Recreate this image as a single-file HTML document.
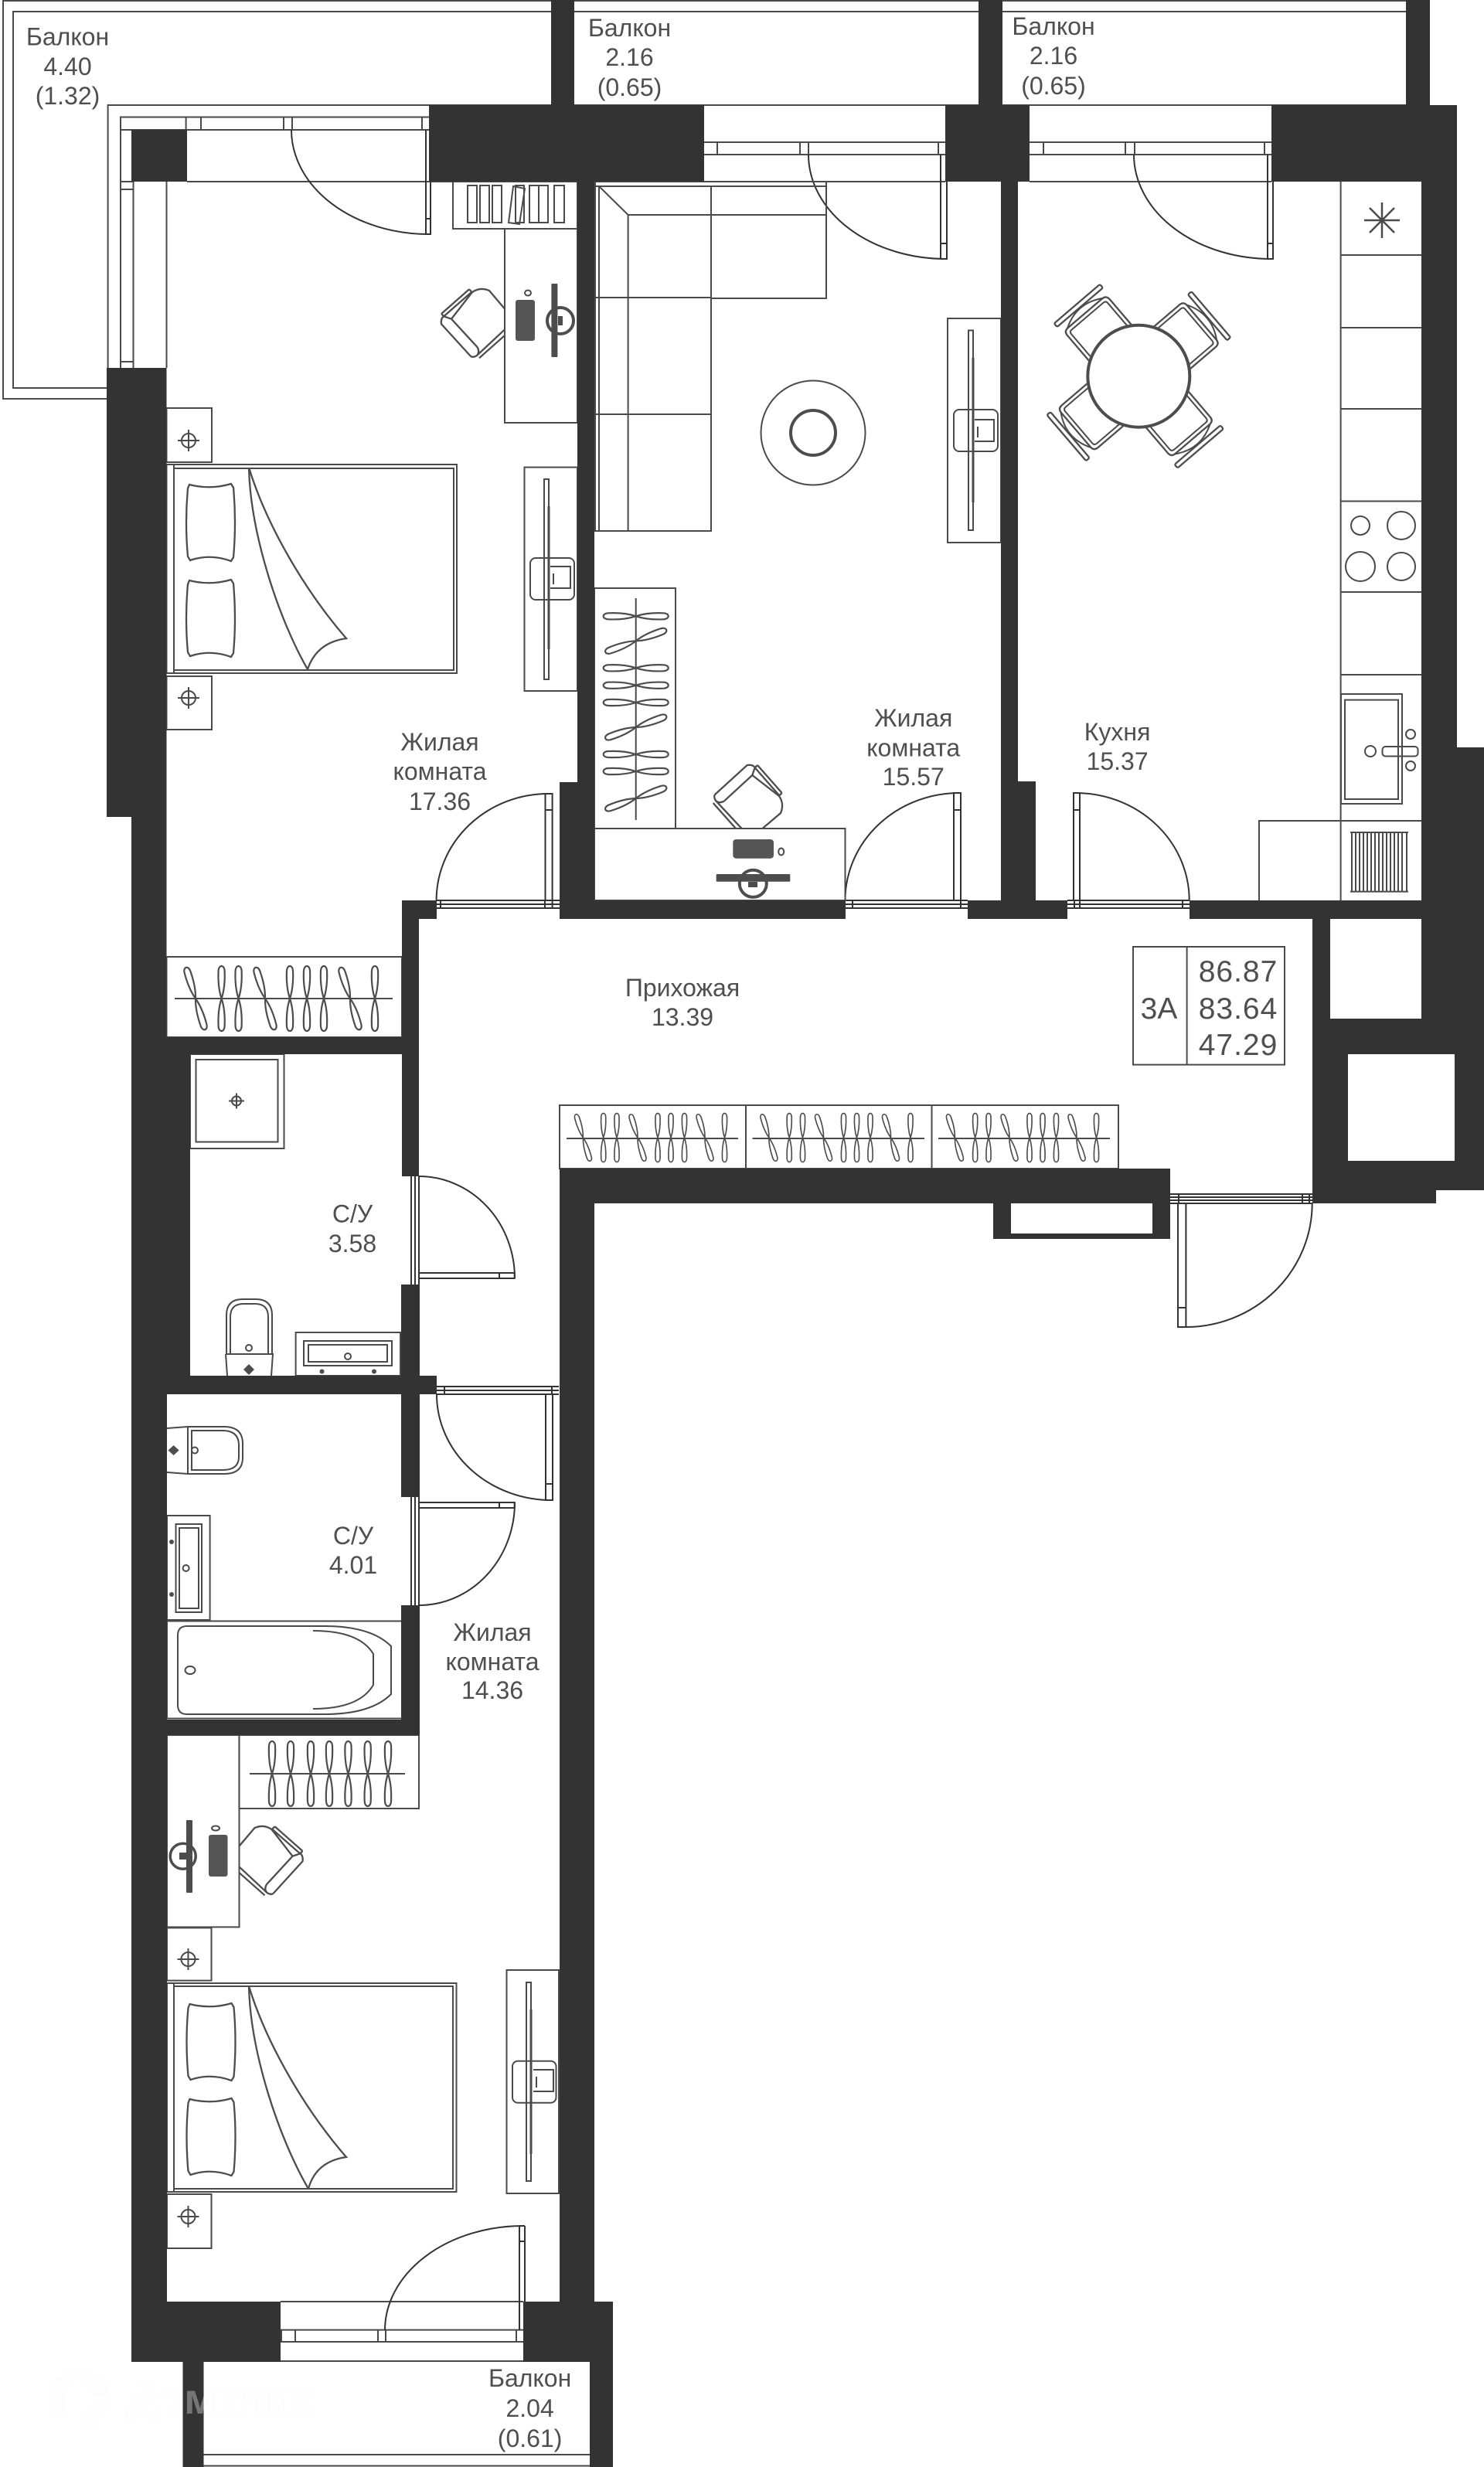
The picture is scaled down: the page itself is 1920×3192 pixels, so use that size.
<!DOCTYPE html>
<html lang="ru"><head><meta charset="utf-8"><title>План квартиры</title>
<style>html,body{margin:0;padding:0;background:#fff}svg{display:block}
text{font-family:"Liberation Sans",sans-serif;fill:#4f4f4f;font-size:32px;text-anchor:middle}
.s{fill:none;stroke:#4a4a4a;stroke-width:2}
.d{fill:none;stroke:#333;stroke-width:2}
.t{fill:none;stroke:#4d4d4d;stroke-width:2.3}
.h{fill:none;stroke:#4d4d4d;stroke-width:2.2}
</style></head><body>
<svg xmlns="http://www.w3.org/2000/svg" xmlns:xlink="http://www.w3.org/1999/xlink" width="1920" height="3192" viewBox="0 0 1920 3192">
<defs>
<g id="hg" class="h"><path d="M0,0C12,-4 25,-4.5 36,-4C44,-3.5 44,3.5 36,4C25,4.5 12,4 0,0Z"/><path d="M0,0C-12,-4 -25,-4.5 -36,-4C-44,-3.5 -44,3.5 -36,4C-25,4.5 -12,4 0,0Z"/></g>
<g id="cross" class="s"><circle cx="0" cy="0" r="9"/><path d="M-14,0H14M0,-14V14"/></g>
<path id="pillow" class="t" d="M4,2Q31,9 58,1L61,6Q65,51 61,96L58,101Q31,91 5,100L2,95Q-2,51 2,7Z"/>
<g id="chair">
<rect x="-39" y="-123" width="78" height="6" rx="2" class="t"/>
<path class="t" d="M-36,-50V-100Q-36,-107 -29,-107H29Q36,-107 36,-100V-50"/>
<path class="s" d="M-31,-50V-98Q-31,-102 -27,-102H27Q31,-102 31,-98V-50"/>
<path class="s" d="M-30,-107Q-15,-116 0,-116Q15,-116 30,-107"/>
</g>
<g id="office" class="t">
<path d="M936.7,1036.7L973.3,1003L1008,1030Q1015,1040 1010,1052L986.7,1071.7"/>
<path d="M925,1028L966.7,990Q974,989 976.7,993L973.3,1003M936.7,1036.7Q930,1040 926,1036Q923,1031 925,1028"/>
<path d="M922.7,1039L951.7,1071.7M926.7,1036.7L959.3,1071.7"/>
<path d="M980,990L1011.7,1026M976.7,993.3L1008.3,1029.3M980,990L976.7,993.3M1011.7,1026L1008.3,1029.3"/>
</g>
</defs>
<rect width="1920" height="3192" fill="#fff"/>

<!-- balconies -->
<g class="s">
<path d="M138,516H4V1H713M138,502H17V15H713"/>
<path d="M743,1H1266M743,15H1266M1297,1H1819M1297,15H1819"/>
<path d="M139.6,476V136H1850"/>
<path d="M263,3176H763M263,3190.5H763"/>
<path d="M363,2978H677M363,3055H677"/>
<!-- left window -->
<path d="M156,476V151.5H555M172.5,476V168H555"/>
<path d="M156,168H172.5M156,235H172.5M156,245H172.5M156,468H172.5"/>
<path d="M215.5,235V476M242,235H586"/>
<path d="M240.6,151.5V168M260,151.5V168M367,151.5V168M378,151.5V168M546,151.5V168"/>
<!-- window 2 -->
<path d="M911,184H1223M911,200H1223M911,235H1223"/>
<path d="M928,184V200M1035,184V200M1046,184V200M1214,184V200"/>
<!-- window 3 -->
<path d="M1332,184H1645M1332,200H1645M1332,235H1645"/>
<path d="M1350,184V200M1456,184V200M1468,184V200M1636,184V200"/>
<!-- window bottom -->
<path d="M363,3014.6H677M363,3030H677M382,3014.6V3030M489,3014.6V3030M499,3014.6V3030M668,3014.6V3030M364,3014.6V3030"/>
</g>

<!-- doors -->
<g class="d">
<path d="M377,168A178,135 0 0 0 555,303"/><path d="M551,168V303H557V168M551,283H557"/>
<path d="M1046,200A178,135 0 0 0 1224.5,335"/><path d="M1217,200V335H1225V200M1217,315H1225"/>
<path d="M1467,200A178,135 0 0 0 1646,335"/><path d="M1640,200V335H1647V200M1640,315H1647"/>
<path d="M564.6,1165A145,138 0 0 1 710,1027"/><path d="M705.5,1165V1027H714.6V1165M705.5,1048H714.6"/>
<path d="M1093.5,1165A148,139 0 0 1 1241.7,1026"/><path d="M1234,1165V1026H1243V1165M1234,1048H1243"/>
<path d="M1538.7,1165A147,139 0 0 0 1392,1026"/><path d="M1389,1165V1026H1397V1165M1389,1048H1397"/>
<path d="M565,1165H724M565,1170H724M565,1175H724M570,1165V1175M705,1165V1175M714.6,1165V1175"/>
<path d="M1093.5,1165H1252M1093.5,1170H1252M1093.5,1175H1252M1103,1165V1175M1243,1165V1175"/>
<path d="M1381,1165H1539M1381,1170H1539M1381,1175H1539M1390,1165V1175M1397,1165V1175M1530,1165V1175"/>
<!-- entrance -->
<path d="M1514,1545H1698M1514,1549H1698M1514,1553H1698M1514,1557H1698M1525,1545V1557M1685,1545V1557M1694,1545V1557"/>
<path d="M1697.7,1557A163.7,160 0 0 1 1534,1717"/><path d="M1524,1557V1717H1534.4V1557M1524,1692H1534.4"/>
<!-- wc door 1 -->
<path d="M532,1522V1662M537,1522V1662M542,1522V1662"/>
<path d="M542,1522A124,132 0 0 1 666,1654"/><path d="M542,1647H665.7V1654H542M646,1647V1654"/>
<!-- bedroom door -->
<path d="M565,1794H723M565,1799H723M565,1804H723M575,1794V1804M714,1794V1804"/>
<path d="M565,1804A149,137 0 0 0 714,1941"/><path d="M706,1804V1941H715V1804M706,1920H715"/>
<!-- bath door -->
<path d="M532,1937V2077M537,1937V2077M542,1937V2077"/>
<path d="M542,2077A124,133 0 0 0 666,1944"/><path d="M542,1951H665.7V1944H542M646,1944V1951"/>
<!-- balcony bottom door -->
<path d="M498,3015A179,135 0 0 1 677,2880"/><path d="M672,2880V3015M679,2880V3015M672,2880H679M672,2900H679"/>
</g>

<!-- bedroom 1 furniture -->
<g class="s">
<rect x="586" y="235" width="161" height="61"/>
<path d="M605,240h12v48h-12zM621,240h12v48h-12zM637,240h12v48h-12zM667,240h11v48h-11zM685,240h12v48h-12zM697,240h12v48h-12zM717,240h13v48h-13z"/>
<path d="M664,241l15,3-7,46-14,-2z"/>
<rect x="653" y="296" width="94" height="251"/>
<rect x="215.5" y="528" width="58.5" height="70"/>
<rect x="215.5" y="875" width="58.5" height="69"/>
<rect x="215.5" y="601" width="9.5" height="270"/>
<rect x="225" y="601" width="366" height="270"/><rect x="225" y="606" width="362" height="261"/>
<rect x="678.5" y="604.6" width="68.5" height="289.4"/>
<rect x="215.5" y="1238" width="304.5" height="104"/>
<path d="M226,1292H508"/>
</g>
<use xlink:href="#cross" x="244" y="570"/><use xlink:href="#cross" x="244" y="903"/>
<use xlink:href="#pillow" x="241" y="625"/><use xlink:href="#pillow" x="241" y="749"/>
<g class="t"><path d="M322,605C324,690 360,800 398,866M322,605C345,680 395,765 448,826C420,830 405,845 398,866"/></g>
<use xlink:href="#office" transform="matrix(0 -1 1 0 -419 1386)"/>
<rect x="667" y="388" width="25" height="53" rx="3" fill="#555"/><ellipse cx="683" cy="379" rx="4" ry="3.5" class="s"/>
<circle cx="725" cy="415" r="17" fill="none" stroke="#4d4d4d" stroke-width="4"/>
<rect x="713.4" y="367" width="8" height="95" rx="1" fill="#4d4d4d"/><rect x="722" y="409" width="6" height="12" fill="#4d4d4d"/>
<g class="s"><rect x="704" y="620" width="6" height="259"/><path d="M710,655V840" stroke-width="3"/><rect x="686" y="722" width="57" height="54" rx="7"/><path d="M712,733H738V761H712M716,742V756" /></g>

<!-- wardrobes -->
<g>
<use xlink:href="#hg" transform="translate(253,1292) rotate(73)"/><use xlink:href="#hg" transform="translate(286.6,1292) rotate(90)"/><use xlink:href="#hg" transform="translate(308.6,1292) rotate(90)"/><use xlink:href="#hg" transform="translate(343,1292) rotate(73)"/><use xlink:href="#hg" transform="translate(375,1292) rotate(90)"/><use xlink:href="#hg" transform="translate(397,1292) rotate(90)"/><use xlink:href="#hg" transform="translate(419,1292) rotate(90)"/><use xlink:href="#hg" transform="translate(453,1292) rotate(73)"/><use xlink:href="#hg" transform="translate(485,1292) rotate(90)"/>
</g>
<g class="s"><rect x="724" y="1430" width="723" height="82"/><path d="M965,1430V1512M1205.5,1430V1512M733,1473H955M973.5,1473H1196M1214,1473H1436"/></g>
<g id="wr1">
<use xlink:href="#hg" transform="translate(754.4,1472) rotate(73) scale(.75)"/><use xlink:href="#hg" transform="translate(780.7,1472) rotate(90) scale(.75)"/><use xlink:href="#hg" transform="translate(798,1472) rotate(90) scale(.75)"/><use xlink:href="#hg" transform="translate(825,1472) rotate(73) scale(.75)"/><use xlink:href="#hg" transform="translate(851,1472) rotate(90) scale(.75)"/><use xlink:href="#hg" transform="translate(868,1472) rotate(90) scale(.75)"/><use xlink:href="#hg" transform="translate(885.5,1472) rotate(90) scale(.75)"/><use xlink:href="#hg" transform="translate(912,1472) rotate(73) scale(.75)"/><use xlink:href="#hg" transform="translate(937.5,1472) rotate(90) scale(.75)"/>
</g>
<use xlink:href="#wr1" x="240.5"/><use xlink:href="#wr1" x="481"/>

<!-- living room -->
<g class="s">
<path d="M770,235H1069V386H920M770,241H1069M812.6,278H1069M775,241L812.6,278M770,235V687H920V241M775,241V687M812.6,278V687M770,385H920M770,536H920"/>
<rect x="769" y="761" width="105" height="311"/><path d="M822.7,774V1061"/>
<rect x="769" y="1072" width="324.5" height="93"/>
<rect x="1226" y="412" width="69" height="290"/>
<rect x="1253" y="427.5" width="6" height="258.5"/><path d="M1259,463V650" stroke-width="3"/>
<rect x="1234" y="530" width="57" height="54" rx="7"/><path d="M1261,543H1286V571H1261M1265,552V566"/>
<circle cx="1052" cy="560" r="67.5"/></g>
<circle cx="1052" cy="560" r="29" fill="none" stroke="#4d4d4d" stroke-width="4"/>
<g>
<use xlink:href="#hg" transform="translate(822.7,797.3)"/><use xlink:href="#hg" transform="translate(822.7,829.3) rotate(-20)"/><use xlink:href="#hg" transform="translate(822.7,864.3)"/><use xlink:href="#hg" transform="translate(822.7,886.7)"/><use xlink:href="#hg" transform="translate(822.7,909)"/><use xlink:href="#hg" transform="translate(822.7,941) rotate(-20)"/><use xlink:href="#hg" transform="translate(822.7,976)"/><use xlink:href="#hg" transform="translate(822.7,998)"/><use xlink:href="#hg" transform="translate(822.7,1033) rotate(-20)"/>
</g>
<use xlink:href="#office"/>
<rect x="948.3" y="1086" width="52.7" height="24.7" rx="4" fill="#555"/><ellipse cx="1010.7" cy="1102" rx="3.5" ry="4.5" class="s"/>
<circle cx="974.3" cy="1143.3" r="17.5" fill="none" stroke="#4d4d4d" stroke-width="4"/>
<rect x="926.7" y="1131" width="95.6" height="9.7" rx="1" fill="#4d4d4d"/><rect x="968" y="1141" width="12" height="7" fill="#4d4d4d"/>

<!-- kitchen -->
<g transform="translate(1473.3,486.7)">
<use xlink:href="#chair" transform="rotate(49.5)"/><use xlink:href="#chair" transform="rotate(-40.5)"/><use xlink:href="#chair" transform="rotate(139.5)"/><use xlink:href="#chair" transform="rotate(229.5)"/>
<circle r="66" fill="#fff" stroke="#4d4d4d" stroke-width="4"/>
</g>
<g class="s">
<path d="M1734.6,235V1165M1734.6,330H1839M1734.6,424H1839M1734.6,529H1839M1734.6,648.5H1839M1734.6,766H1839M1734.6,873H1839M1734.6,1062H1839"/>
<path d="M1629,1165V1062H1734.6"/>
<path d="M1788,262V308M1765,285H1811M1772,269L1804,301M1804,269L1772,301" stroke-width="2.5"/>
<circle cx="1760" cy="680" r="12"/><circle cx="1813" cy="680" r="18"/><circle cx="1760" cy="733" r="19"/><circle cx="1813" cy="733" r="18"/>
<rect x="1735" y="898" width="79" height="142"/><rect x="1740" y="905.6" width="69" height="128.4"/>
<rect x="1788.5" y="966" width="46" height="12.5" rx="4"/>
<circle cx="1773" cy="972" r="7"/><circle cx="1825" cy="950" r="6"/><circle cx="1825" cy="991" r="6"/>
<path d="M1747,1077H1822M1747,1153.6H1822M1749,1077V1153.6M1754,1077V1153.6M1759,1077V1153.6M1764,1077V1153.6M1769,1077V1153.6M1774,1077V1153.6M1779,1077V1153.6M1784,1077V1153.6M1789,1077V1153.6M1794,1077V1153.6M1799,1077V1153.6M1804,1077V1153.6M1809,1077V1153.6M1814,1077V1153.6M1820,1077V1153.6"/>
<!-- summary -->
<rect x="1466" y="1225" width="196" height="152.6"/><path d="M1535.6,1225V1377.6"/>
</g>

<!-- bath 1 -->
<g class="s">
<rect x="246" y="1364" width="121.5" height="122"/><rect x="253.5" y="1371" width="106" height="106.5"/>
<path d="M293,1752V1702Q293,1681 314,1681H331Q352,1681 352,1702V1752M298,1752V1704Q298,1687 315,1687H330Q347,1687 347,1704V1752M292,1752H353L351,1780M292,1752L294,1780"/>
<circle cx="322" cy="1744" r="4"/>
<rect x="382.6" y="1724" width="135.4" height="56"/><rect x="393" y="1735" width="114" height="32"/><rect x="399" y="1740" width="102" height="22"/>
<circle cx="450" cy="1755" r="4"/>
</g>
<g fill="#4d4d4d"><path d="M322,1765l7,7-7,7-7,-7z"/><circle cx="416.5" cy="1774.5" r="3"/><circle cx="484" cy="1774.5" r="3"/><circle cx="222" cy="1995" r="3"/><circle cx="222" cy="2063" r="3"/><path d="M224.6,1870l7,6.5-7,6.5-7,-6.5z"/></g>
<g class="s" transform="translate(306,1424.5)"><circle r="6"/><path d="M-10,0H10M0,-10V10"/></g>

<!-- bath 2 -->
<g class="s">
<path d="M216,1848L243,1846H290Q314,1846 314,1868V1886Q314,1907 290,1907H243L216,1905M243,1846V1907M248,1851H288Q309,1851 309,1870V1885Q309,1902 288,1902H248Z"/>
<circle cx="252" cy="1876.5" r="4"/>
<rect x="216" y="1961" width="55.6" height="135"/><rect x="227.5" y="1972" width="33.5" height="114"/><rect x="232" y="1977" width="25" height="104"/>
<circle cx="240.6" cy="2029" r="4"/>
<rect x="216" y="2097.5" width="304.7" height="126"/>
<path d="M230,2116Q230,2104 242,2104H420Q480,2104 506,2130V2192Q480,2218 420,2218H242Q230,2218 230,2206Z"/>
<path d="M405,2110Q465,2110 483,2140V2180Q465,2211 405,2211"/>
<ellipse cx="246" cy="2161" rx="6.5" ry="5"/>
</g>

<!-- bedroom 2 -->
<g class="s">
<rect x="309.4" y="2245" width="232.6" height="95"/><path d="M323,2295H524"/>
<rect x="216" y="2245" width="93.5" height="248.4"/>
<rect x="216" y="2494.4" width="57.5" height="68.2"/><rect x="216" y="2839" width="57.5" height="70"/>
<rect x="216" y="2566" width="9" height="270"/>
<rect x="225" y="2566" width="365.5" height="270"/><rect x="225" y="2570" width="361" height="262"/>
<rect x="655.5" y="2549" width="67.5" height="289"/>
<rect x="681" y="2565" width="6" height="257"/><path d="M687,2600V2787" stroke-width="3"/>
<rect x="663" y="2666.7" width="56.5" height="54" rx="7"/><path d="M690,2678H716V2706H690M694,2687V2701"/>
</g>
<g>
<use xlink:href="#hg" transform="translate(352,2295) rotate(90)"/><use xlink:href="#hg" transform="translate(376,2295) rotate(90)"/><use xlink:href="#hg" transform="translate(402,2295) rotate(90)"/><use xlink:href="#hg" transform="translate(426,2295) rotate(90)"/><use xlink:href="#hg" transform="translate(450.5,2295) rotate(90)"/><use xlink:href="#hg" transform="translate(475.7,2295) rotate(90)"/><use xlink:href="#hg" transform="translate(502,2295) rotate(90)"/>
</g>
<use xlink:href="#cross" x="243.5" y="2535"/><use xlink:href="#cross" x="243.5" y="2868"/>
<use xlink:href="#pillow" x="241.5" y="2591"/><use xlink:href="#pillow" x="241.5" y="2714"/>
<g class="t"><path d="M322,2570C324,2655 360,2765 399,2832M322,2570C345,2645 395,2730 448,2791C420,2795 405,2810 399,2832"/></g>
<use xlink:href="#office" transform="matrix(0 -1 -1 0 1381.5 3375)"/>
<rect x="270" y="2374" width="24.5" height="54" rx="3" fill="#555"/><ellipse cx="279" cy="2365.5" rx="5" ry="3" class="s"/>
<circle cx="236.7" cy="2401.7" r="16.5" fill="none" stroke="#4d4d4d" stroke-width="3.5"/>
<rect x="241" y="2355" width="8" height="94" rx="1" fill="#4d4d4d"/><rect x="232" y="2397" width="9" height="9" fill="#4d4d4d"/>

<!-- walls -->
<path fill="#333" d="M713,0h30v136h-30zM1266,0h31v136h-31zM1819,0h31v136h-31zM555,136h356v99h-356zM170,168h72v67h-72zM1223,136h109v99h-109zM1645,136h240v99h-240zM1839,235h46v732h-46zM1839,967h81v351h-81zM1539,1165h381v24h-381zM1698,1189h23v129h-23zM1698,1318h222v46h-222zM1882,1364h38v176h-38zM1698,1364h46v176h-46zM1744,1502h138v38h-138zM1698,1540h160v17h-160zM747,235h22v777h-22zM724,1012h45v153h-45zM724,1165h370v24h-370zM1252,1165h129v24h-129zM1295,235h22v776h-22zM1295,1011h45v154h-45zM138,476h77.5v581h-77.5zM170,1057h45.5v285h-45.5zM170,1342h372v22h-372zM170,1364h76v416h-76zM170,1780h395v24h-395zM170,1804h46v1252h-46zM520,1165h45v24h-45zM520,1189h22v333h-22zM519,1662h24v118h-24zM519,1804h24v133h-24zM519,2077h24v168h-24zM170,2225h373v20h-373zM724,1512h790v45h-790zM724,1557h45v1421h-45zM1285,1557h23v46h-23zM1491,1557h23v46h-23zM1285,1596h229v7h-229zM170,2978h193v78h-193zM677,2978h116v78h-116zM236.5,3056h27v136h-27zM763,3056h30v136h-30z"/>

<!-- labels -->
<text x="87.5" y="58.7">Балкон</text><text x="87.5" y="97">4.40</text><text x="87.5" y="135">(1.32)</text>
<text x="814.5" y="47">Балкон</text><text x="814.5" y="85">2.16</text><text x="814.5" y="124">(0.65)</text>
<text x="1363" y="45">Балкон</text><text x="1363" y="83">2.16</text><text x="1363" y="122">(0.65)</text>
<text x="569" y="971">Жилая</text><text x="569" y="1009">комната</text><text x="569" y="1048">17.36</text>
<text x="1181.7" y="940">Жилая</text><text x="1181.7" y="978.6">комната</text><text x="1181.7" y="1016">15.57</text>
<text x="1445.6" y="958">Кухня</text><text x="1445.6" y="996">15.37</text>
<text x="883" y="1289">Прихожая</text><text x="883" y="1327">13.39</text>
<text x="456" y="1581.6">С/У</text><text x="456" y="1620">3.58</text>
<text x="457" y="1998">С/У</text><text x="457" y="2036">4.01</text>
<text x="637" y="2123">Жилая</text><text x="637" y="2161">комната</text><text x="637" y="2198">14.36</text>
<text x="685.6" y="3088">Балкон</text><text x="685.6" y="3127">2.04</text><text x="685.6" y="3166">(0.61)</text>
<text x="1499.5" y="1318" style="font-size:39px">3А</text>
<text x="1602" y="1270" style="font-size:39px;letter-spacing:1px">86.87</text><text x="1602" y="1318" style="font-size:39px;letter-spacing:1px">83.64</text><text x="1602" y="1365" style="font-size:39px;letter-spacing:1px">47.29</text>

<!-- watermark -->
<path d="M74,3125V3088L101,3071L130,3088V3100M110,3138L136,3108" fill="none" stroke="#000" stroke-opacity=".008" stroke-width="18"/>
<text x="285" y="3123" style="font-size:56px;font-weight:bold;fill:#fff;fill-opacity:.33;stroke:#000;stroke-opacity:.02;stroke-width:1">Домклик</text>
</svg>
</body></html>
